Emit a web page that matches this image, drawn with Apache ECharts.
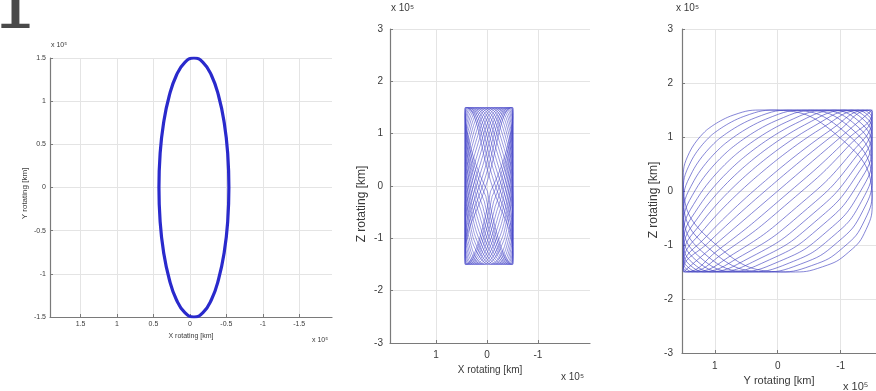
<!DOCTYPE html>
<html>
<head>
<meta charset="utf-8">
<script src="https://cdn.jsdelivr.net/npm/echarts@6/dist/echarts.min.js"></script>
<style>
html, body { margin: 0; padding: 0; background: #fff; }
#chart { width: 876px; height: 391px; }
</style>
</head>
<body>
<div id="chart"></div>
<script>
// all coordinates in units of 10^5 km

// panel 1: X vs Y, one thick closed orbit
const xyOrbit = [
  [-0.535, 0], [-0.519, 0.39], [-0.471, 0.75], [-0.394, 1.06], [-0.295, 1.30], [-0.179, 1.45],
  [-0.055, 1.5], [0.069, 1.45], [0.185, 1.30], [0.284, 1.06], [0.361, 0.75], [0.409, 0.39],
  [0.425, 0], [0.409, -0.39], [0.361, -0.75], [0.284, -1.06], [0.185, -1.30], [0.069, -1.45],
  [-0.055, -1.5], [-0.179, -1.45], [-0.295, -1.30], [-0.394, -1.06], [-0.471, -0.75], [-0.519, -0.39],
  [-0.535, 0]
];

// panel 2: X vs Z, loops filling the tall box
const xzLoops = [
  [[-0.009, -0.098], [-0.506, -1.5], [-0.509, -1.497], [-0.51, -1.487], [-0.071, 0.098], [0.426, 1.5], [0.429, 1.497], [0.43, 1.487], [-0.009, -0.098]],
  [[0.022, -0.197], [-0.494, -1.5], [-0.506, -1.487], [-0.51, -1.449], [-0.102, 0.197], [0.414, 1.5], [0.426, 1.487], [0.43, 1.449], [0.022, -0.197]],
  [[0.052, -0.293], [-0.474, -1.5], [-0.501, -1.472], [-0.51, -1.386], [-0.132, 0.293], [0.394, 1.5], [0.421, 1.472], [0.43, 1.386], [0.052, -0.293]],
  [[0.082, -0.389], [-0.447, -1.5], [-0.494, -1.449], [-0.51, -1.299], [-0.162, 0.389], [0.367, 1.5], [0.414, 1.449], [0.43, 1.299], [0.082, -0.389]],
  [[0.111, -0.482], [-0.413, -1.5], [-0.485, -1.421], [-0.51, -1.19], [-0.191, 0.482], [0.333, 1.5], [0.405, 1.421], [0.43, 1.19], [0.111, -0.482]],
  [[0.140, -0.575], [-0.372, -1.5], [-0.474, -1.386], [-0.51, -1.061], [-0.220, 0.575], [0.292, 1.5], [0.394, 1.386], [0.43, 1.061], [0.140, -0.575]],
  [[0.168, -0.663], [-0.326, -1.5], [-0.462, -1.346], [-0.51, -0.914], [-0.248, 0.663], [0.246, 1.5], [0.382, 1.346], [0.43, 0.914], [0.168, -0.663]],
  [[0.195, -0.75], [-0.275, -1.5], [-0.447, -1.299], [-0.51, -0.75], [-0.275, 0.75], [0.195, 1.5], [0.367, 1.299], [0.43, 0.75], [0.195, -0.75]],
  [[0.221, -0.834], [-0.220, -1.5], [-0.431, -1.247], [-0.51, -0.575], [-0.301, 0.834], [0.140, 1.5], [0.351, 1.247], [0.43, 0.575], [0.221, -0.834]],
  [[0.246, -0.914], [-0.162, -1.5], [-0.413, -1.19], [-0.51, -0.389], [-0.326, 0.914], [0.082, 1.5], [0.333, 1.19], [0.43, 0.389], [0.246, -0.914]],
  [[0.270, -0.989], [-0.102, -1.5], [-0.393, -1.128], [-0.51, -0.197], [-0.350, 0.989], [0.022, 1.5], [0.313, 1.128], [0.43, 0.197], [0.270, -0.989]],
  [[0.292, -1.061], [-0.04, -1.5], [-0.372, -1.061], [-0.51, 0], [-0.372, 1.061], [-0.04, 1.5], [0.292, 1.061], [0.43, 0], [0.292, -1.061]],
  [[-0.350, -0.989], [-0.51, 0.197], [-0.393, 1.128], [-0.102, 1.5], [0.270, 0.989], [0.43, -0.197], [0.313, -1.128], [0.022, -1.5], [-0.350, -0.989]],
  [[-0.326, -0.914], [-0.51, 0.389], [-0.413, 1.19], [-0.162, 1.5], [0.246, 0.914], [0.43, -0.389], [0.333, -1.19], [0.082, -1.5], [-0.326, -0.914]],
  [[-0.301, -0.834], [-0.51, 0.575], [-0.431, 1.247], [-0.220, 1.5], [0.221, 0.834], [0.43, -0.575], [0.351, -1.247], [0.140, -1.5], [-0.301, -0.834]],
  [[-0.275, -0.75], [-0.51, 0.75], [-0.447, 1.299], [-0.275, 1.5], [0.195, 0.75], [0.43, -0.75], [0.367, -1.299], [0.195, -1.5], [-0.275, -0.75]],
  [[-0.248, -0.663], [-0.51, 0.914], [-0.462, 1.346], [-0.326, 1.5], [0.168, 0.663], [0.43, -0.914], [0.382, -1.346], [0.246, -1.5], [-0.248, -0.663]],
  [[-0.220, -0.575], [-0.51, 1.061], [-0.474, 1.386], [-0.372, 1.5], [0.140, 0.575], [0.43, -1.061], [0.394, -1.386], [0.292, -1.5], [-0.220, -0.575]],
  [[-0.191, -0.482], [-0.51, 1.19], [-0.485, 1.421], [-0.413, 1.5], [0.111, 0.482], [0.43, -1.19], [0.405, -1.421], [0.333, -1.5], [-0.191, -0.482]],
  [[-0.162, -0.389], [-0.51, 1.299], [-0.494, 1.449], [-0.447, 1.5], [0.082, 0.389], [0.43, -1.299], [0.414, -1.449], [0.367, -1.5], [-0.162, -0.389]],
  [[-0.132, -0.293], [-0.51, 1.386], [-0.501, 1.472], [-0.474, 1.5], [0.052, 0.293], [0.43, -1.386], [0.421, -1.472], [0.394, -1.5], [-0.132, -0.293]],
  [[-0.102, -0.197], [-0.51, 1.449], [-0.506, 1.487], [-0.494, 1.5], [0.022, 0.197], [0.43, -1.449], [0.426, -1.487], [0.414, -1.5], [-0.102, -0.197]],
  [[-0.071, -0.098], [-0.51, 1.487], [-0.509, 1.497], [-0.506, 1.5], [-0.009, 0.098], [0.43, -1.487], [0.429, -1.497], [0.426, -1.5], [-0.071, -0.098]]
];

// panel 3: Y vs Z, lens-shaped loops between the two corners
const yzLoops = [
  [[1.129, 1.129], [1.404, 0.710], [1.5, 0.2], [0.987, -0.987], [-0.2, -1.5], [-0.710, -1.404], [-1.129, -1.129], [-1.404, -0.710], [-1.5, -0.2], [-0.987, 0.987], [0.2, 1.5], [0.710, 1.404], [1.129, 1.129]],
  [[1.043, 1.043], [1.381, 0.539], [1.5, -0.05], [1.078, -1.078], [0.05, -1.5], [-0.539, -1.381], [-1.043, -1.043], [-1.381, -0.539], [-1.5, 0.05], [-1.078, 1.078], [-0.05, 1.5], [0.539, 1.381], [1.043, 1.043]],
  [[0.949, 0.949], [1.355, 0.359], [1.5, -0.3], [1.162, -1.162], [0.3, -1.5], [-0.359, -1.355], [-0.949, -0.949], [-1.355, -0.359], [-1.5, 0.3], [-1.162, 1.162], [-0.3, 1.5], [0.359, 1.355], [0.949, 0.949]],
  [[0.857, 0.857], [1.330, 0.190], [1.5, -0.52], [1.231, -1.231], [0.52, -1.5], [-0.190, -1.330], [-0.857, -0.857], [-1.330, -0.190], [-1.5, 0.52], [-1.231, 1.231], [-0.52, 1.5], [0.190, 1.330], [0.857, 0.857]],
  [[0.765, 0.765], [1.303, 0.026], [1.5, -0.72], [1.290, -1.290], [0.72, -1.5], [-0.026, -1.303], [-0.765, -0.765], [-1.303, -0.026], [-1.5, 0.72], [-1.290, 1.290], [-0.72, 1.5], [0.026, 1.303], [0.765, 0.765]],
  [[0.671, 0.671], [1.276, -0.135], [1.5, -0.9], [1.342, -1.342], [0.9, -1.5], [0.135, -1.276], [-0.671, -0.671], [-1.276, 0.135], [-1.5, 0.9], [-1.342, 1.342], [-0.9, 1.5], [-0.135, 1.276], [0.671, 0.671]],
  [[0.581, 0.581], [1.249, -0.282], [1.5, -1.05], [1.383, -1.383], [1.05, -1.5], [0.282, -1.249], [-0.581, -0.581], [-1.249, 0.282], [-1.5, 1.05], [-1.383, 1.383], [-1.05, 1.5], [-0.282, 1.249], [0.581, 0.581]],
  [[0.490, 0.490], [1.222, -0.423], [1.5, -1.18], [1.418, -1.418], [1.18, -1.5], [0.423, -1.222], [-0.490, -0.490], [-1.222, 0.423], [-1.5, 1.18], [-1.418, 1.418], [-1.18, 1.5], [-0.423, 1.222], [0.490, 0.490]],
  [[0.397, 0.397], [1.193, -0.562], [1.5, -1.29], [1.447, -1.447], [1.29, -1.5], [0.562, -1.193], [-0.397, -0.397], [-1.193, 0.562], [-1.5, 1.29], [-1.447, 1.447], [-1.29, 1.5], [-0.562, 1.193], [0.397, 0.397]],
  [[0.300, 0.300], [1.162, -0.697], [1.5, -1.38], [1.470, -1.470], [1.38, -1.5], [0.697, -1.162], [-0.300, -0.300], [-1.162, 0.697], [-1.5, 1.38], [-1.470, 1.470], [-1.38, 1.5], [-0.697, 1.162], [0.300, 0.300]],
  [[0.193, 0.193], [1.127, -0.836], [1.5, -1.45], [1.488, -1.488], [1.45, -1.5], [0.836, -1.127], [-0.193, -0.193], [-1.127, 0.836], [-1.5, 1.45], [-1.488, 1.488], [-1.45, 1.5], [-0.836, 1.127], [0.193, 0.193]],
  [[0.100, 0.100], [1.096, -0.949], [1.5, -1.487], [1.497, -1.497], [1.487, -1.5], [0.949, -1.096], [-0.100, -0.100], [-1.096, 0.949], [-1.5, 1.487], [-1.497, 1.497], [-1.487, 1.5], [-0.949, 1.096], [0.100, 0.100]],
  [[1.5, -1.5], [0, 0], [-1.5, 1.5]]
];

// tick labels
const ticksHalf = [-1.5, -1, -0.5, 0, 0.5, 1, 1.5];
const ticksOne = [-1, 0, 1];
const axisNames = ['X rotating [km]', 'Y rotating [km]', 'X rotating [km]', 'Z rotating [km]', 'Y rotating [km]', 'Z rotating [km]'];
const expLabel = 'x 10\u2075';

const chart = echarts.init(document.getElementById('chart'));

const axisGray = '#7a7a7a';
const textGray = '#3a3a3a';
const gridGray = '#e4e4e4';
const font = 'Liberation Sans';

function xAxisCfg(gi, min, max, ticks, name, fs, nfs, nameGap, margin) {
  return {
    type: 'value', gridIndex: gi, min: min, max: max, inverse: true,
    name: name, nameLocation: 'middle', nameGap: nameGap,
    nameTextStyle: { color: textGray, fontSize: nfs, fontFamily: font },
    axisLine: { show: true, onZero: false, lineStyle: { color: axisGray, width: 1.2 } },
    axisTick: { show: true, inside: true, length: 3, customValues: ticks, lineStyle: { color: axisGray } },
    axisLabel: { customValues: ticks, color: textGray, fontSize: fs, margin: margin, fontFamily: font },
    splitLine: { show: true, lineStyle: { color: gridGray, width: 1 } }
  };
}

// namePad moves the rotated name down the axis
function yAxisCfg(gi, min, max, interval, name, fs, nfs, nameGap, margin, namePad) {
  return {
    type: 'value', gridIndex: gi, min: min, max: max, interval: interval,
    name: name, nameLocation: 'middle', nameGap: nameGap,
    nameTextStyle: { color: textGray, fontSize: nfs, fontFamily: font, padding: [0, namePad, 0, 0] },
    axisLine: { show: true, onZero: false, lineStyle: { color: axisGray, width: 1.2 } },
    axisTick: { show: true, inside: true, length: 3, lineStyle: { color: axisGray } },
    axisLabel: { color: textGray, fontSize: fs, margin: margin, fontFamily: font },
    splitLine: { show: true, lineStyle: { color: gridGray, width: 1 } }
  };
}

function loopSeries(loops, gi, color, width, opacity) {
  return loops.map(function (pts) {
    return {
      type: 'line', xAxisIndex: gi, yAxisIndex: gi, data: pts,
      smooth: true, showSymbol: false, silent: true, clip: false,
      lineStyle: { color: color, width: width, opacity: opacity }
    };
  });
}

function expText(x, y, size) {
  return { type: 'text', x: x, y: y, style: { text: expLabel, fill: textGray, font: size + 'px ' + font } };
}

const option = {
  animation: false,
  backgroundColor: '#fff',
  grid: [
    { left: 50, top: 58, width: 282, height: 259, containLabel: false, outerBoundsMode: 'none' },
    { left: 390, top: 29, width: 200, height: 314, containLabel: false, outerBoundsMode: 'none' },
    { left: 682, top: 29, width: 194, height: 324, containLabel: false, outerBoundsMode: 'none' }
  ],
  xAxis: [
    xAxisCfg(0, -1.95, 1.92, ticksHalf, axisNames[0], 7, 7, 15, 4),
    xAxisCfg(1, -2.02, 1.9, ticksOne, axisNames[2], 10, 10, 22, 7),
    xAxisCfg(2, -1.56, 1.52, ticksOne, axisNames[4], 10, 11, 20, 8)
  ],
  yAxis: [
    yAxisCfg(0, -1.5, 1.5, 0.5, axisNames[1], 7, 8, 21, 4, 12),
    yAxisCfg(1, -3, 3, 1, axisNames[3], 10, 12, 22, 7, 36),
    yAxisCfg(2, -3, 3, 1, axisNames[5], 10, 12, 22, 9, 18)
  ],
  series: [
    {
      type: 'line', xAxisIndex: 0, yAxisIndex: 0, data: xyOrbit,
      smooth: true, showSymbol: false, silent: true,
      lineStyle: { color: '#2a2acc', width: 3.2 }
    }
  ].concat(loopSeries(xzLoops, 1, '#4646c8', 0.8, 0.7))
   .concat(loopSeries(yzLoops, 2, '#4040c0', 0.8, 0.8)),
  graphic: [
    { type: 'text', x: -10, y: -33, style: { text: '1', fill: '#4a4a4a', font: '80px DejaVu Serif' } },
    expText(51, 42, 7),
    expText(312, 337, 7),
    expText(391, 3, 10),
    expText(561, 372, 10),
    expText(676, 3, 10),
    expText(843, 381, 11)
  ]
};

chart.setOption(option);
</script>
</body>
</html>
